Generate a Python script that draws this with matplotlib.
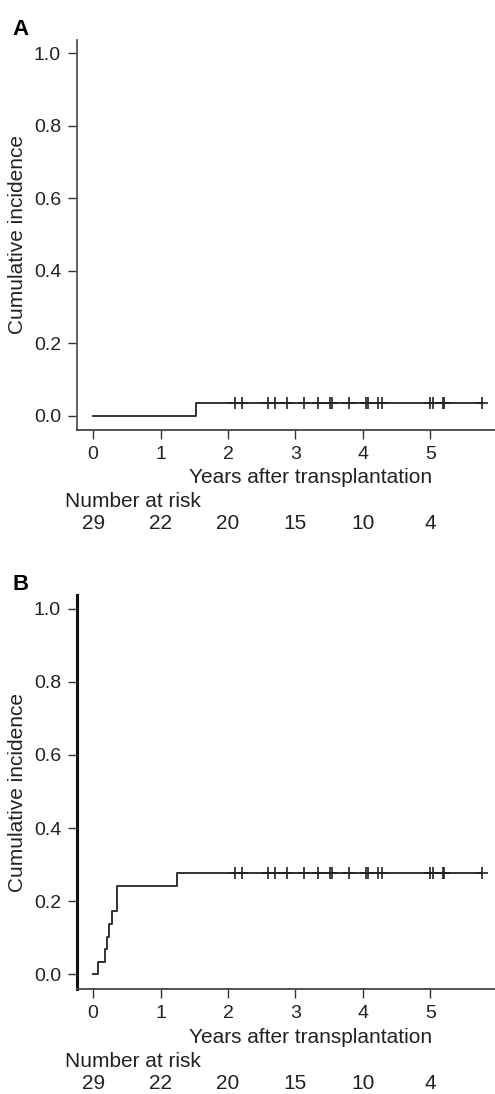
import numpy as np
import matplotlib.pyplot as plt

plt.rcParams['font.family'] = ['Liberation Sans', 'DejaVu Sans']

# number at risk table (shared by both panels)
risk_years = [0, 1, 2, 3, 4, 5]
n_at_risk = [29, 22, 20, 15, 10, 4]

# censoring times (years), same cohort in both panels
censor_times = [2.11, 2.21, 2.59, 2.69, 2.88, 3.13, 3.34, 3.51, 3.54, 3.80,
                4.05, 4.07, 4.23, 4.28, 4.99, 5.04, 5.19, 5.21, 5.77]
end_time = 5.77

# panel A
a_times = [1.52]
a_cuminc = [0.0345]

# panel B
b_times = [0.07, 0.17, 0.20, 0.23, 0.28, 0.355, 1.25]
b_cuminc = [0.0345, 0.069, 0.103, 0.138, 0.172, 0.241, 0.276]

W, H = 495, 1094
fig = plt.figure(figsize=(W / 100, H / 100), dpi=100)


def panel(rect, letter, times, cuminc, left_lw, left_col):
    ax = fig.add_axes(rect)
    x = [0] + times + [end_time]
    y = [0] + cuminc + [cuminc[-1]]
    ax.step(x, y, where='post', color='#333333', lw=1.4)
    cens_y = [cuminc[-1]] * len(censor_times)
    ax.plot(censor_times, cens_y, ls='none', marker='+', ms=9, mew=1.2, color='#222222')

    ax.set_xlim(-0.24, 5.96)
    ax.set_ylim(-0.04, 1.037)
    ax.set_xticks(risk_years)
    ax.set_yticks([0, 0.2, 0.4, 0.6, 0.8, 1.0])
    ax.set_yticklabels(['0.0', '0.2', '0.4', '0.6', '0.8', '1.0'])
    for s in ['top', 'right']:
        ax.spines[s].set_visible(False)
    ax.spines['left'].set_color(left_col)
    ax.spines['left'].set_linewidth(left_lw)
    ax.spines['bottom'].set_color('#444444')
    ax.spines['bottom'].set_linewidth(1.3)
    ax.tick_params(direction='out', length=6.5, width=1.0, pad=5,
                   labelsize=14, colors='#333333', labelcolor='#222222')
    ax.set_ylabel('Cumulative incidence', fontsize=15, color='#222222')
    ax.yaxis.set_label_coords(-0.12, 0.5)

    tr = ax.get_xaxis_transform()
    ax.text(3.23, -0.122, 'Years after transplantation', transform=tr,
            ha='center', va='center', fontsize=15, color='#222222')
    ax.text(-0.42, -0.183, 'Number at risk', transform=tr,
            ha='left', va='center', fontsize=15, color='#222222')
    for yr, n in zip(risk_years, n_at_risk):
        ax.text(yr, -0.239, str(n), transform=tr, ha='center', va='center',
                fontsize=15, color='#222222')

    fig.text(rect[0] - 0.13, rect[1] + rect[3] + 0.01, letter,
             fontsize=16, fontweight='bold', ha='left', va='center')
    return ax


panel([77 / W, 1 - 430 / H, 418 / W, 390 / H], 'A', a_times, a_cuminc, 1.3, '#555555')
panel([77 / W, 1 - 989 / H, 418 / W, 394 / H], 'B', b_times, b_cuminc, 2.2, '#111111')

fig.savefig('out.png', dpi=100)
